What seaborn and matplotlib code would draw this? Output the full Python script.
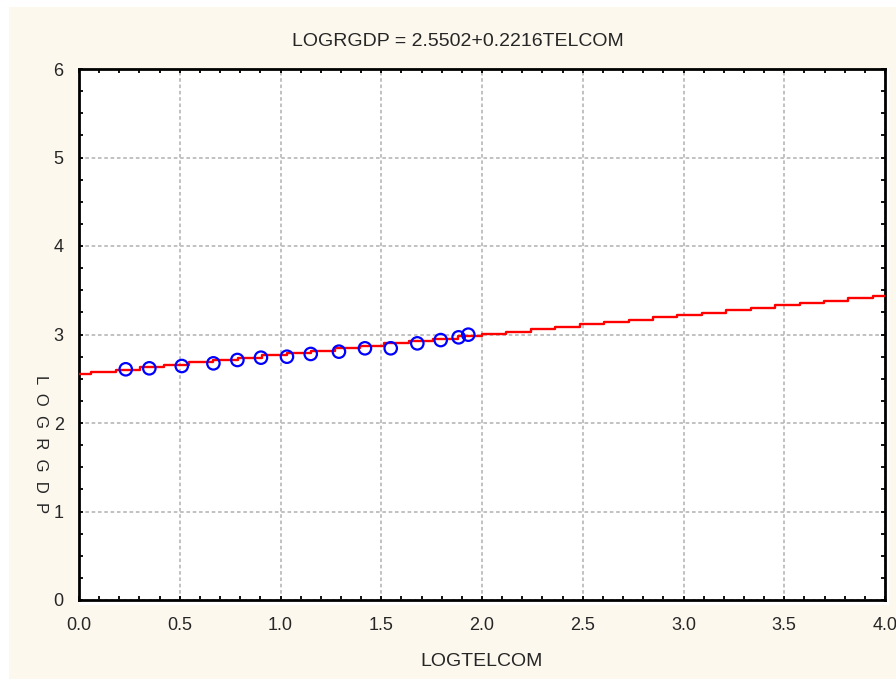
import numpy as np
import pandas as pd
import seaborn as sns
import matplotlib.pyplot as plt
from matplotlib.patches import Rectangle
from matplotlib.ticker import MultipleLocator

logtelcom = [0.232, 0.349, 0.510, 0.667, 0.786, 0.903, 1.032, 1.150,
             1.290, 1.419, 1.547, 1.679, 1.795, 1.884, 1.932]
logrgdp = [2.607, 2.618, 2.644, 2.674, 2.712, 2.738, 2.749, 2.780,
           2.806, 2.844, 2.844, 2.900, 2.937, 2.968, 2.998]

# fitted line from the title
intercept = 2.5502
slope = 0.2216
x_min, x_max = 0.0, 4.0
n_steps = 34   # the original draws the fit as a coarse staircase

x_ticks = [0.0, 0.5, 1.0, 1.5, 2.0, 2.5, 3.0, 3.5, 4.0]
y_ticks = [0, 1, 2, 3, 4, 5, 6]

df = pd.DataFrame({'LOGTELCOM': logtelcom, 'LOGRGDP': logrgdp})
fit_x = np.linspace(x_min, x_max, n_steps)
fit = pd.DataFrame({'x': fit_x, 'y': intercept + slope * fit_x})

sns.set_style('white')
plt.rcParams['font.family'] = ['Liberation Sans', 'DejaVu Sans']

fig = plt.figure(figsize=(8.96, 6.79), dpi=100, facecolor='white')
W, H = 896, 679
# beige panel and the little white "shadow" around the plot area
fig.patches.append(Rectangle((9 / W, 0), 1, 1 - 7 / H, transform=fig.transFigure,
                             facecolor='#fcf8ee', edgecolor='none', zorder=-2))
fig.patches.append(Rectangle((79 / W, 1 - 605 / H), 810 / W, 536 / H,
                             transform=fig.transFigure, facecolor='white',
                             edgecolor='none', zorder=-1))

ax = fig.add_axes([79 / W, 1 - 600 / H, 806 / W, 531 / H])
ax.set_facecolor('white')

ax.plot(fit['x'], fit['y'], color='#ff0000', lw=1.7, drawstyle='steps-mid', zorder=3)
sns.scatterplot(data=df, x='LOGTELCOM', y='LOGRGDP', ax=ax, marker='o', s=80,
                facecolor='none', edgecolor='#0000ff', linewidth=1.6, zorder=4)

ax.set_xlim(x_min, x_max)
ax.set_ylim(0, 6)
ax.set_xticks(x_ticks)
ax.set_xticklabels([f'{v:.1f}' for v in x_ticks])
ax.set_yticks(y_ticks)
ax.xaxis.set_minor_locator(MultipleLocator(0.1))
ax.yaxis.set_minor_locator(MultipleLocator(0.25))
ax.tick_params(which='both', direction='in', top=True, right=True, bottom=True, left=True,
               length=3, width=1.3, color='black')
ax.tick_params(axis='x', which='major', labelsize=13, pad=12)
ax.tick_params(axis='y', which='major', labelsize=13, pad=11)

ax.grid(True, which='major', color='#bcbcbc', linestyle=(0, (2, 1.5)), lw=1.3)
for s in ax.spines.values():
    s.set_color('black')
    s.set_linewidth(2)

ax.set_xlabel('')
ax.set_ylabel('')
fig.text(458 / W, 1 - 42 / H, 'LOGRGDP = 2.5502+0.2216TELCOM', ha='center', va='center',
         fontsize=14)
fig.text(482 / W, 1 - 662 / H, 'LOGTELCOM', ha='center', va='center', fontsize=14)
fig.text(40 / W, 1 - 444 / H, 'L  O  G  R  G  D  P', ha='center', va='center', rotation=-90,
         fontsize=12)

fig.savefig('out.png', dpi=100, facecolor=fig.get_facecolor())
